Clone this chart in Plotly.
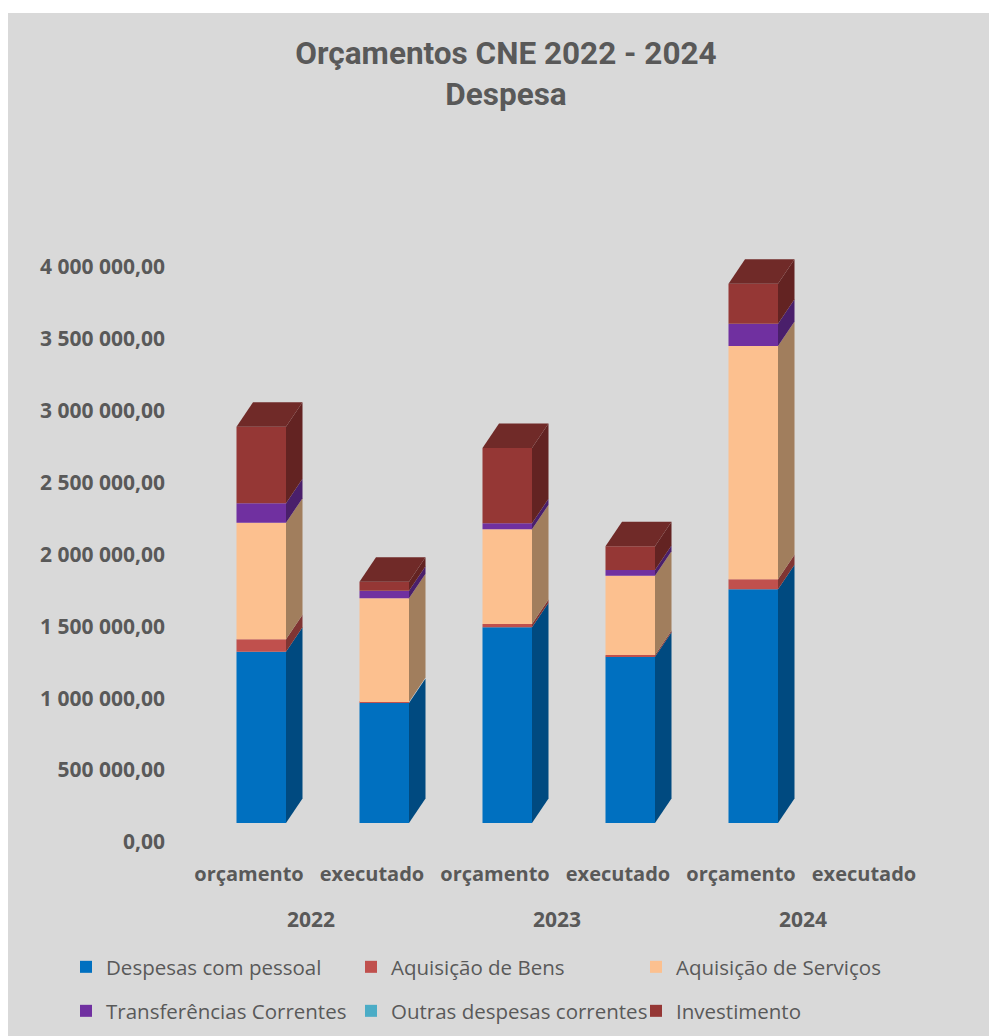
import plotly.graph_objects as go

categories = ["orçamento", "executado", "orçamento", "executado", "orçamento", "executado"]
years = ["2022", "2023", "2024"]
pessoal = [1191650, 834800, 1361400, 1156900, 1625700, 0]
bens = [86260, 7000, 23000, 11800, 69600, 0]
servicos = [811130, 721400, 658800, 551700, 1622900, 0]
transferencias = [134960, 52900, 41700, 39700, 155100, 0]
outras = [0, 0, 0, 0, 0, 0]
investimento = [532870, 62600, 523800, 164900, 278300, 0]
y_ticks = [0, 500000, 1000000, 1500000, 2000000, 2500000, 3000000, 3500000, 4000000]
y_labels = ["0,00", "500 000,00", "1 000 000,00", "1 500 000,00", "2 000 000,00",
            "2 500 000,00", "3 000 000,00", "3 500 000,00", "4 000 000,00"]

series = [
    ("Despesas com pessoal", pessoal, "#0070C0", "#004A80", "legend"),
    ("Aquisição de Bens", bens, "#C0504D", "#803533", "legend"),
    ("Aquisição de Serviços", servicos, "#FCC08F", "#A17E5D", "legend"),
    ("Transferências Correntes", transferencias, "#7030A0", "#4A1F6B", "legend2"),
    ("Outras despesas correntes", outras, "#4BACC6", "#327384", "legend2"),
    ("Investimento", investimento, "#953735", "#632322", "legend2"),
]
TOP_COLOR = "#702A28"
TEXT = "#595959"
FONT = "Open Sans"

W, H = 989, 1036
L, R, T, B = 166, 989, 200, 860
PX_PER_VALUE = 143.75e-6
Y0_PX = 842
CAT0_PX, CAT_STEP = 249, 123
yr = [(Y0_PX - B) / PX_PER_VALUE, (Y0_PX - T) / PX_PER_VALUE]
xr = [(L - CAT0_PX) / CAT_STEP, (R - CAT0_PX) / CAT_STEP]

FLOOR = 19 / PX_PER_VALUE          # front plane rises above the axis zero
DEPTH_Y = 24.5 / PX_PER_VALUE
DEPTH_X = 16.5 / CAT_STEP
BAR_SHIFT = 12.25 / CAT_STEP
BAR_W = 49.5 / CAT_STEP

fig = go.Figure()
xs = list(range(len(categories)))
cum = [FLOOR] * len(xs)
for name, vals, face, side, lg in series:
    fig.add_trace(go.Bar(
        x=[x + BAR_SHIFT for x in xs], y=vals, base=cum, width=BAR_W, name=name,
        marker=dict(color=face, line=dict(width=0)), legend=lg, hoverinfo="name+y"))
    for x, v, b in zip(xs, vals, cum):
        if v <= 0:
            continue
        xr_edge = x + BAR_SHIFT + BAR_W / 2
        fig.add_trace(go.Scatter(
            x=[xr_edge, xr_edge + DEPTH_X, xr_edge + DEPTH_X, xr_edge, xr_edge],
            y=[b, b + DEPTH_Y, b + v + DEPTH_Y, b + v, b],
            mode="lines", fill="toself", fillcolor=side, line=dict(width=0),
            showlegend=False, hoverinfo="skip"))
    cum = [c + v for c, v in zip(cum, vals)]

for x, top in zip(xs, cum):
    if top <= FLOOR:
        continue
    x0 = x + BAR_SHIFT - BAR_W / 2
    x1 = x + BAR_SHIFT + BAR_W / 2
    fig.add_trace(go.Scatter(
        x=[x0, x0 + DEPTH_X, x1 + DEPTH_X, x1, x0],
        y=[top, top + DEPTH_Y, top + DEPTH_Y, top, top],
        mode="lines", fill="toself", fillcolor=TOP_COLOR, line=dict(width=0),
        showlegend=False, hoverinfo="skip"))

pw, ph = R - L, B - T
annotations = [
    dict(text=f"<b>{y}</b>", x=0.5 + 2 * i, xref="x", y=(B - 919) / ph, yref="paper",
         showarrow=False, xanchor="center", yanchor="middle",
         font=dict(family=FONT, size=21, color=TEXT))
    for i, y in enumerate(years)
]

legend_style = dict(orientation="h", xanchor="left", yanchor="middle", bgcolor="rgba(0,0,0,0)",
                    font=dict(family=FONT, size=20.5, color=TEXT), entrywidth=240,
                    entrywidthmode="pixels", traceorder="normal", itemclick=False, itemdoubleclick=False)

fig.update_layout(
    width=W, height=H, autosize=False, barmode="overlay", showlegend=True,
    margin=dict(l=L, r=W - R, t=T, b=H - B, pad=0),
    paper_bgcolor="white", plot_bgcolor="rgba(0,0,0,0)",
    title=dict(text="<b>Orçamentos CNE 2022 - 2024<br>Despesa</b>", x=506 / W, xanchor="center",
               y=1 - 64 / H, yanchor="middle", xref="container", yref="container",
               font=dict(family="Roboto", size=31.5, color=TEXT)),
    xaxis=dict(range=xr, tickmode="array", tickvals=xs, ticktext=[f"<b>{c}</b>" for c in categories],
               showgrid=False, zeroline=False, showline=False, ticks="", ticklen=0,
               tickfont=dict(family=FONT, size=20, color=TEXT), tickangle=0),
    yaxis=dict(range=yr, tickmode="array", tickvals=y_ticks, ticktext=[f"<b>{t}</b>" for t in y_labels],
               showgrid=False, zeroline=False, showline=False, ticks="", ticklen=0,
               tickfont=dict(family=FONT, size=21, color=TEXT)),
    legend=dict(x=(66 - L) / pw, y=(B - 967) / ph, **legend_style),
    legend2=dict(x=(66 - L) / pw, y=(B - 1011) / ph, **legend_style),
    annotations=annotations,
    shapes=[dict(type="rect", xref="paper", yref="paper", layer="below", line=dict(width=0),
                 fillcolor="#D9D9D9", x0=(8 - L) / pw, x1=1,
                 y0=(B - H) / ph, y1=(B - 13) / ph)],
)

fig.write_html("out.html", config={"displayModeBar": False},
               post_script="document.body.style.margin='0';")
